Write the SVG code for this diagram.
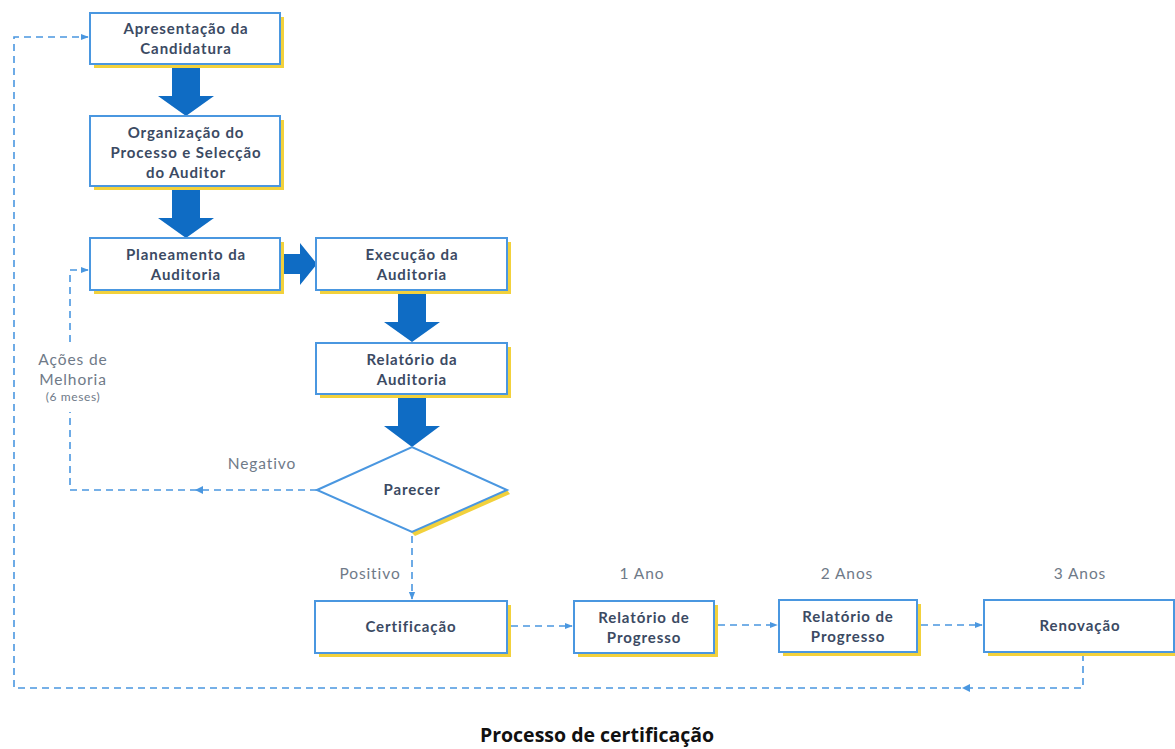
<svg xmlns="http://www.w3.org/2000/svg" width="1175" height="749" viewBox="0 0 1175 749">
<style>
.shadow{fill:#f2d13c}
.box{fill:#fff;stroke:#4a97e0;stroke-width:2}
.t{font-family:"Lato","Liberation Sans",sans-serif;font-weight:bold;font-size:15px;letter-spacing:0.9px;fill:#3b4a63;text-anchor:middle}
.lbl{font-family:"Lato","Liberation Sans",sans-serif;font-size:15.5px;letter-spacing:0.9px;fill:#6f7a88;text-anchor:middle}
.big{fill:#0f6cc4}
.dash{fill:none;stroke:#4a97e0;stroke-width:1.6;stroke-dasharray:7 5}
.title{font-family:"Open Sans","Liberation Sans",sans-serif;font-weight:bold;font-size:19.5px;fill:#111;text-anchor:middle}
</style>
<defs>
<marker id="ah" viewBox="0 0 10 10" refX="9" refY="5" markerWidth="5" markerHeight="5" orient="auto">
<path d="M0,1 L10,5 L0,9 z" fill="#4a97e0"/>
</marker>
</defs>
<rect width="1175" height="749" fill="#fff"/>

<g id="connectors">
<path class="big" d="M172,66 H200 V96 H214 L186,116 L158,96 H172 Z"/>
<path class="big" d="M172,189 H200 V218 H214 L186,238 L158,218 H172 Z"/>
<path class="big" d="M284,254 H300 V243 L317,264 L300,285 V274 H284 Z"/>
<path class="big" d="M398,293 H426 V322 H440 L412,342 L384,322 H398 Z"/>
<path class="big" d="M398,398 H426 V426 H440 L412,447 L384,426 H398 Z"/>
<path class="dash" d="M1083,654 V688 H14 V37 H88" marker-end="url(#ah)"/>
<path d="M970,684 L962,688 L970,692 z" fill="#4a97e0"/>
<path class="dash" d="M317,490 H70 V412"/>
<path d="M203,486 L195,490 L203,494 z" fill="#4a97e0"/>
<path class="dash" d="M70,342 V270 H88" marker-end="url(#ah)"/>
<path class="dash" d="M412,536 V599" marker-end="url(#ah)"/>
<path class="dash" d="M511,626 H572" marker-end="url(#ah)"/>
<path class="dash" d="M718,625 H777" marker-end="url(#ah)"/>
<path class="dash" d="M921,625 H982" marker-end="url(#ah)"/>
</g>

<g id="n1">
<rect class="shadow" x="94" y="17" width="190" height="51"/>
<rect class="box" x="90" y="13" width="190" height="51"/>
<text class="t" x="186" y="34">Apresentação da</text>
<text class="t" x="186" y="54">Candidatura</text>
</g>
<g id="n2">
<rect class="shadow" x="94" y="120" width="190" height="70"/>
<rect class="box" x="90" y="116" width="190" height="70"/>
<text class="t" x="186" y="138">Organização do</text>
<text class="t" x="186" y="158">Processo e Selecção</text>
<text class="t" x="186" y="178">do Auditor</text>
</g>
<g id="n3">
<rect class="shadow" x="94" y="242" width="190" height="52"/>
<rect class="box" x="90" y="238" width="190" height="52"/>
<text class="t" x="186" y="260">Planeamento da</text>
<text class="t" x="186" y="280">Auditoria</text>
</g>
<g id="n4">
<rect class="shadow" x="320" y="242" width="191" height="52"/>
<rect class="box" x="316" y="238" width="191" height="52"/>
<text class="t" x="412" y="260">Execução da</text>
<text class="t" x="412" y="280">Auditoria</text>
</g>
<g id="n5">
<rect class="shadow" x="320" y="347" width="191" height="51"/>
<rect class="box" x="316" y="343" width="191" height="51"/>
<text class="t" x="412" y="365">Relatório da</text>
<text class="t" x="412" y="385">Auditoria</text>
</g>
<g id="n6">
<path class="shadow" d="M510,494 L415,536 L411,532 L507,490 Z"/>
<path class="box" d="M317,490 L412,447 L507,490 L412,532 Z"/>
<text class="t" x="412" y="495">Parecer</text>
</g>
<g id="n7">
<rect class="shadow" x="319" y="605" width="192" height="52"/>
<rect class="box" x="315" y="601" width="192" height="52"/>
<text class="t" x="411" y="632">Certificação</text>
</g>
<g id="n8">
<rect class="shadow" x="578" y="605" width="140" height="52"/>
<rect class="box" x="574" y="601" width="140" height="52"/>
<text class="t" x="644" y="623">Relatório de</text>
<text class="t" x="644" y="643">Progresso</text>
</g>
<g id="n9">
<rect class="shadow" x="783" y="604" width="138" height="52"/>
<rect class="box" x="779" y="600" width="138" height="52"/>
<text class="t" x="848" y="622">Relatório de</text>
<text class="t" x="848" y="642">Progresso</text>
</g>
<g id="n10">
<rect class="shadow" x="988" y="604" width="190" height="52"/>
<rect class="box" x="984" y="600" width="190" height="52"/>
<text class="t" x="1080" y="631">Renovação</text>
</g>

<g id="labels">
<text class="lbl" x="262" y="469">Negativo</text>
<text class="lbl" x="370" y="579">Positivo</text>
<text class="lbl" x="642" y="579">1 Ano</text>
<text class="lbl" x="847" y="579">2 Anos</text>
<text class="lbl" x="1080" y="579">3 Anos</text>
<text class="lbl" x="73" y="365">Ações de</text>
<text class="lbl" x="73" y="385">Melhoria</text>
<text class="lbl" x="73" y="401" style="font-size:12px;letter-spacing:0.6px">(6 meses)</text>
</g>
<text class="title" x="597" y="742">Processo de certificação</text>
</svg>
